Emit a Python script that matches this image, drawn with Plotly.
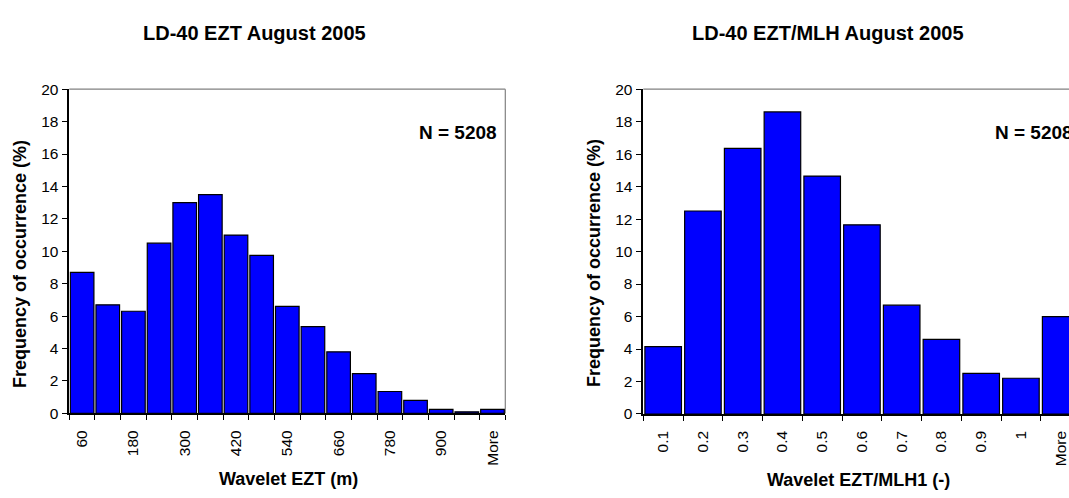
import plotly.graph_objects as go

# Histogram of wavelet EZT (m)
ezt_bins = ["60", "120", "180", "240", "300", "360", "420", "480", "540",
            "600", "660", "720", "780", "840", "900", "960", "More"]
ezt_freq = [8.7, 6.7, 6.3, 10.5, 13.0, 13.5, 11.0, 9.75, 6.6,
            5.35, 3.8, 2.45, 1.35, 0.8, 0.25, 0.1, 0.25]
ezt_labelled = ["60", "180", "300", "420", "540", "660", "780", "900", "More"]

# Histogram of wavelet EZT / MLH1 (-)
ratio_bins = ["0.1", "0.2", "0.3", "0.4", "0.5", "0.6", "0.7", "0.8", "0.9", "1", "More"]
ratio_freq = [4.15, 12.5, 16.35, 18.6, 14.65, 11.65, 6.7, 4.6, 2.5, 2.2, 6.0]

y_ticks = [0, 2, 4, 6, 8, 10, 12, 14, 16, 18, 20]
n_obs = 5208

W, H = 1069, 498
FONT = "Liberation Sans, Arial, sans-serif"


def px(x):
    return x / W


def py(y):
    return 1 - y / H


fig = go.Figure()

bar_style = dict(marker=dict(color="#0000FF", line=dict(color="black", width=1.2)),
                 showlegend=False, hoverinfo="x+y")

fig.add_trace(go.Bar(x=ezt_bins, y=ezt_freq, xaxis="x", yaxis="y", **bar_style))
fig.add_trace(go.Bar(x=ratio_bins, y=ratio_freq, xaxis="x2", yaxis="y2", **bar_style))

tick_font = dict(family=FONT, size=15.5, color="black")

xcommon = dict(type="category", tickson="boundaries", ticks="outside", ticklen=5,
               tickcolor="black", tickwidth=1, showline=True, linecolor="black",
               linewidth=1.5, tickangle=-90, tickfont=tick_font, showgrid=False,
               zeroline=False, fixedrange=True, ticklabelstandoff=9)
ycommon = dict(range=[0, 20], tickvals=y_ticks, ticks="outside", ticklen=6,
               tickcolor="black", tickwidth=1, showline=True, linecolor="black",
               linewidth=1.5, tickfont=tick_font, showgrid=False, zeroline=False,
               fixedrange=True)

left_ticktext = [b if b in ezt_labelled else "" for b in ezt_bins]

# Right panel runs past the page edge, so its last bin is only partly shown
right_left_px = 643.3
right_step_px = 39.75
right_hi = -0.5 + (W - right_left_px) / right_step_px

fig.update_layout(
    width=W, height=H,
    margin=dict(l=0, r=0, t=0, b=0),
    paper_bgcolor="white", plot_bgcolor="white",
    bargap=0.08,
    xaxis=dict(domain=[px(69.3), px(505.3)], anchor="y",
               tickvals=ezt_bins, ticktext=left_ticktext,
               range=[-0.5, len(ezt_bins) - 0.5], **xcommon),
    yaxis=dict(domain=[py(418.7), py(83)], anchor="x", **ycommon),
    xaxis2=dict(domain=[px(right_left_px), 1.0], anchor="y2",
                tickvals=ratio_bins, ticktext=ratio_bins,
                range=[-0.5, right_hi], **xcommon),
    yaxis2=dict(domain=[py(419.3), py(83)], anchor="x2", **ycommon),
)

# Grey frame on the top and right sides of each plot area
frame = dict(type="line", line=dict(color="#808080", width=1.2), layer="below")
fig.add_shape(xref="x domain", yref="y domain", x0=0, x1=1, y0=1, y1=1, **frame)
fig.add_shape(xref="x domain", yref="y domain", x0=1, x1=1, y0=0, y1=1, **frame)
fig.add_shape(xref="x2 domain", yref="y2 domain", x0=0, x1=1, y0=1, y1=1, **frame)

bold = lambda s: dict(family=FONT, size=s, color="black", weight="bold")

texts = [
    ("LD-40 EZT August 2005", 254, 25, 20, 0, "center"),
    ("LD-40 EZT/MLH August 2005", 828, 25, 20, 0, "center"),
    ("Wavelet EZT (m)", 288, 487, 18, 0, "center"),
    ("Wavelet EZT/MLH1 (-)", 858, 488, 18, 0, "center"),
    ("Frequency of occurrence (%)", 20, 264, 18, -90, "center"),
    ("Frequency of occurrence (%)", 594, 263, 18, -90, "center"),
    (f"N = {n_obs}", 417, 128, 19, 0, "left"),
    (f"N = {n_obs}", 993, 128, 19, 0, "left"),
]
for txt, x, y, size, ang, anchor in texts:
    fig.add_annotation(text=f"<b>{txt}</b>", xref="paper", yref="paper",
                       x=px(x), y=py(y), xanchor=anchor, yanchor="middle",
                       showarrow=False, textangle=ang, font=bold(size))

fig.write_html("out.html")
